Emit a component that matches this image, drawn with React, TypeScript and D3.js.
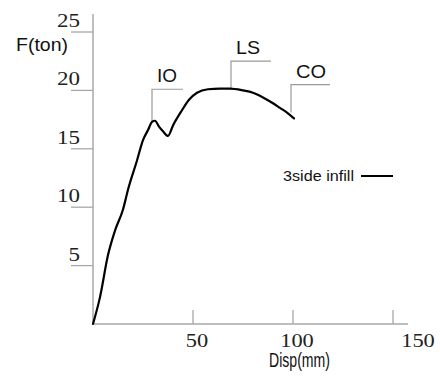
import React from "react";
import * as d3 from "d3";

const disp = [0, 3.5, 7.5, 11, 15, 17.5, 22, 25, 27.5, 29.5, 31, 33, 35, 37.5, 40, 44.5, 48, 52, 57.5, 63.5, 68.5, 75, 80, 85, 90, 93.5, 97, 100.5];
const force = [0, 2.3, 5.9, 8.0, 9.8, 11.5, 14.0, 15.75, 16.6, 17.3, 17.4, 16.9, 16.5, 16.1, 17.0, 18.3, 19.2, 19.8, 20.1, 20.15, 20.15, 20.0, 19.8, 19.4, 18.9, 18.5, 18.1, 17.6];

const levels = ["IO", "LS", "CO"];
const levelDisp = [29.5, 69, 99];
const levelBase = [17.3, 20.1, 18.1];
const levelTop = [20.1, 22.5, 20.5];
const levelEnd = [45, 89, 118.5];

const yTicks = [5, 10, 15, 20, 25];
const xTicks = [50, 100, 150];
const seriesName = "3side infill";

export default function App() {
  const x = d3.scaleLinear().domain([0, 150]).range([93, 393]);
  const y = d3.scaleLinear().domain([0, 25]).range([324, 32]);
  const pts = disp.map((d, i) => [d, force[i]] as [number, number]);
  const line = d3
    .line<[number, number]>()
    .x((d) => x(d[0]))
    .y((d) => y(d[1]))
    .curve(d3.curveMonotoneX);
  const axisColor = "#a8a8a8";
  const sans = "'Liberation Sans', Arial, sans-serif";
  const serif = "'Liberation Serif', 'Times New Roman', serif";
  return (
    <svg width={440} height={377} style={{ position: "absolute", left: 0, top: 0, background: "#fff" }}>
      {/* axes */}
      <line x1={x(0)} y1={y(0)} x2={x(0)} y2={14} stroke={axisColor} strokeWidth={1.5} />
      <line x1={x(0)} y1={y(0)} x2={408} y2={y(0)} stroke={axisColor} strokeWidth={1.5} />
      {yTicks.map((t) => (
        <g key={"y" + t}>
          <line x1={x(0) - 22} x2={x(0)} y1={y(t)} y2={y(t)} stroke={axisColor} strokeWidth={1.3} />
          <text
            x={80}
            y={y(t) - 5}
            textAnchor="end"
            fontFamily={serif}
            fontSize={19}
            fill="#222"
            textLength={String(t).length * 11.5}
            lengthAdjust="spacingAndGlyphs"
          >
            {t}
          </text>
        </g>
      ))}
      {xTicks.map((t, i) => (
        <g key={"x" + t}>
          <line x1={x(t)} x2={x(t)} y1={y(0)} y2={y(0) - 14} stroke={axisColor} strokeWidth={1.3} />
          <text
            x={x(t) + (i === xTicks.length - 1 ? 25 : 4)}
            y={347}
            textAnchor="middle"
            fontFamily={serif}
            fontSize={19}
            fill="#222"
            textLength={String(t).length * 11.2}
            lengthAdjust="spacingAndGlyphs"
          >
            {t}
          </text>
        </g>
      ))}
      <text x={16} y={51} fontFamily={sans} fontSize={19} fill="#111" textLength={52} lengthAdjust="spacingAndGlyphs">
        F(ton)
      </text>
      <text x={269} y={367} fontFamily={sans} fontSize={20} fill="#111" textLength={61} lengthAdjust="spacingAndGlyphs">
        Disp(mm)
      </text>
      {/* performance levels */}
      {levels.map((l, i) => (
        <g key={l}>
          <polyline
            points={`${x(levelDisp[i])},${y(levelBase[i])} ${x(levelDisp[i])},${y(levelTop[i])} ${x(levelEnd[i])},${y(levelTop[i])}`}
            fill="none"
            stroke="#9a9a9a"
            strokeWidth={1.2}
          />
          <text
            x={x(levelDisp[i]) + 5}
            y={y(levelTop[i]) - 7}
            fontFamily={sans}
            fontSize={18}
            fill="#111"
            textLength={l === "IO" ? 20 : l === "LS" ? 24 : 30}
            lengthAdjust="spacingAndGlyphs"
          >
            {l}
          </text>
        </g>
      ))}
      {/* curve */}
      <path d={line(pts) || ""} fill="none" stroke="#000" strokeWidth={2.2} strokeLinejoin="round" strokeLinecap="round" />
      {/* legend */}
      <text x={283} y={181} fontFamily={sans} fontSize={15} fill="#111" textLength={71} lengthAdjust="spacingAndGlyphs">
        {seriesName}
      </text>
      <line x1={361} x2={393} y1={176} y2={176} stroke="#000" strokeWidth={2} />
    </svg>
  );
}
